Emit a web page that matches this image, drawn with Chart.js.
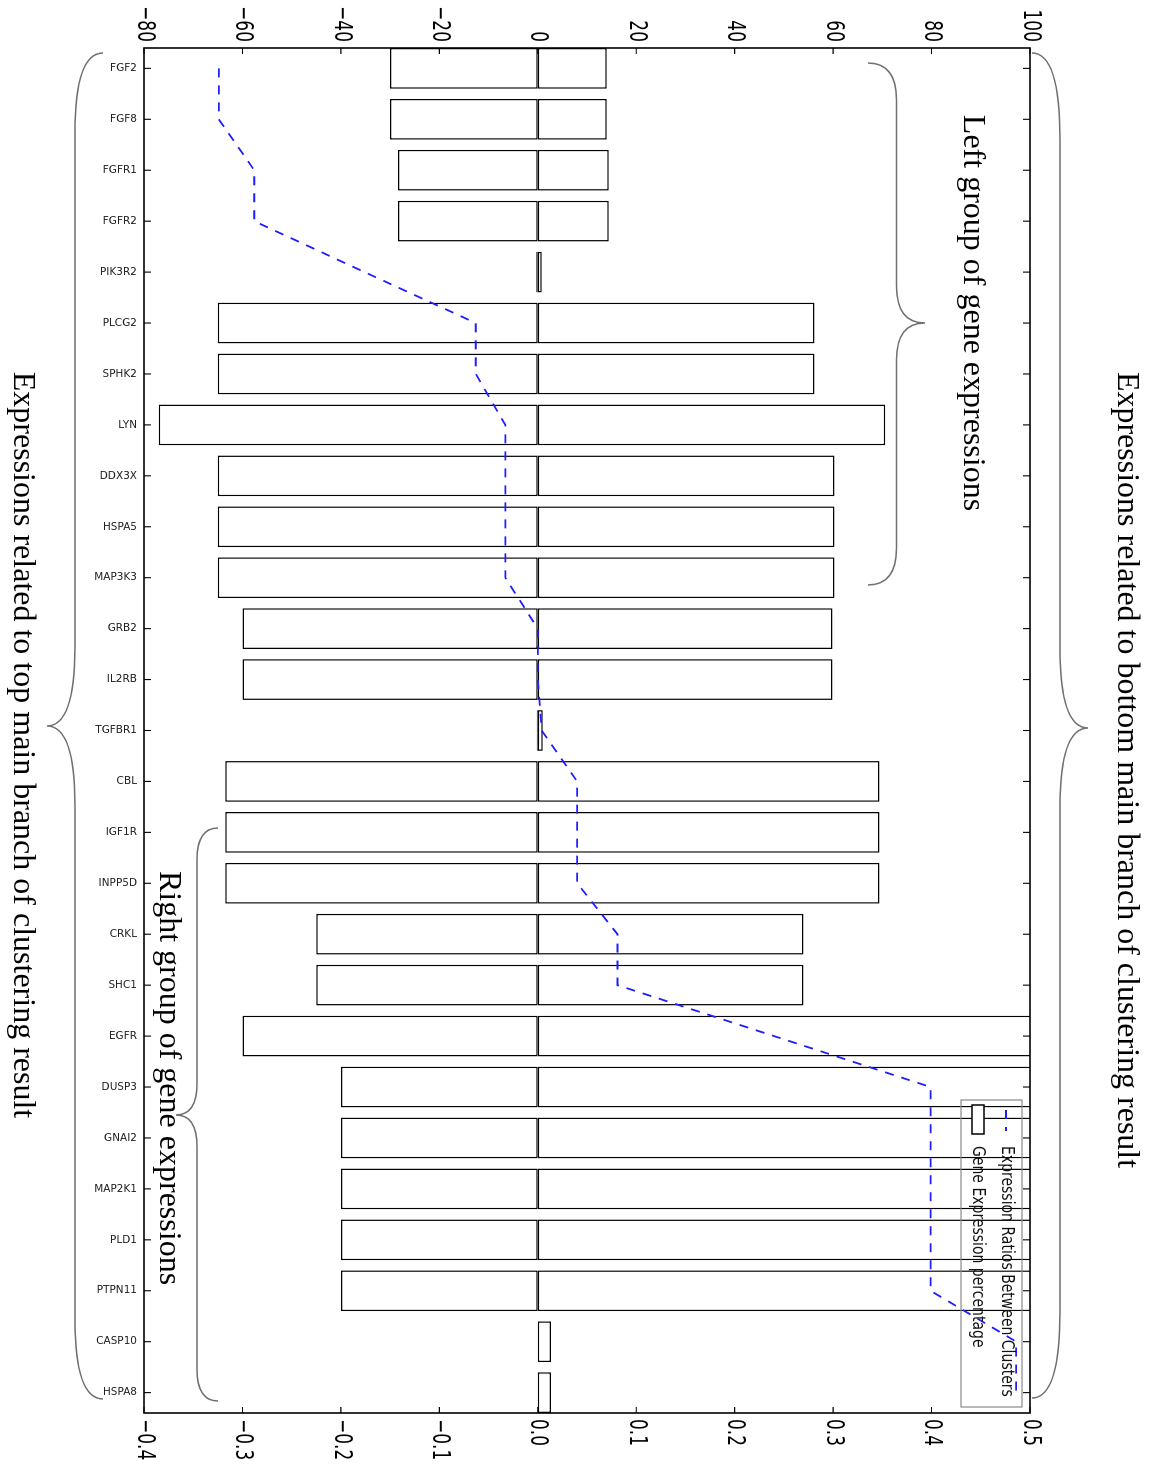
<!DOCTYPE html>
<html><head><meta charset="utf-8">
<script src="https://cdn.jsdelivr.net/npm/chart.js@4.4.1/dist/chart.umd.min.js"></script>
<style>
html,body{margin:0;padding:0;background:#fff;width:1151px;height:1464px;overflow:hidden;}
#wrap{position:absolute;left:0;top:0;width:1464px;height:1151px;transform-origin:0 0;transform:translate(1151px,0) rotate(90deg);}
canvas{display:block;}
</style></head><body>
<div id="wrap"><canvas id="c" width="1464" height="1151" style="width:1464px;height:1151px"></canvas></div>
<script>
// ---- data ----
const genes = ['FGF2','FGF8','FGFR1','FGFR2','PIK3R2','PLCG2','SPHK2','LYN','DDX3X','HSPA5','MAP3K3','GRB2','IL2RB','TGFBR1','CBL','IGF1R','INPP5D','CRKL','SHC1','EGFR','DUSP3','GNAI2','MAP2K1','PLD1','PTPN11','CASP10','HSPA8'];
const pctLow  = [-30,-30,-28.4,-28.4,-0.3,-65,-65,-77,-65,-65,-65,-60,-60,-0.2,-63.5,-63.5,-63.5,-45,-45,-60,-40,-40,-40,-40,-40,0,0];
const pctHigh = [14,14,14.4,14.4,0.8,56.2,56.2,70.6,60.3,60.3,60.3,59.9,59.9,1.0,69.4,69.4,69.4,54,54,125,125,125,125,125,125,2.7,2.7];
const ratios  = [-0.324,-0.324,-0.288,-0.288,-0.176,-0.063,-0.063,-0.033,-0.033,-0.033,-0.033,0,0,0.004,0.040,0.040,0.040,0.081,0.081,0.24,0.399,0.399,0.399,0.399,0.399,0.486,0.486];
const pctTicks = [-80,-60,-40,-20,0,20,40,60,80,100];
const pctTickLabels = ['\u221280','\u221260','\u221240','\u221220','0','20','40','60','80','100'];
const ratioTicks = [-0.4,-0.3,-0.2,-0.1,0,0.1,0.2,0.3,0.4,0.5];
const ratioTickLabels = ['\u22120.4','\u22120.3','\u22120.2','\u22120.1','0.0','0.1','0.2','0.3','0.4','0.5'];
const lineLabel = 'Expression Ratios Between Clusters';
const barLabel = 'Gene Expression percentage';
const notes = {
  bottomBranch: 'Expressions related to bottom main branch of clustering result',
  topBranch: 'Expressions related to top main branch of clustering result',
  leftGroup: 'Left group of gene expressions',
  rightGroup: 'Right group of gene expressions'
};

const BLUE = 'rgb(30,30,255)';
const DASH = [9, 8];

function sText(ctx, t, x, y, font, sy, align, color) {
  ctx.save();
  ctx.translate(x, y);
  ctx.scale(1, sy);
  ctx.font = font;
  ctx.fillStyle = color || '#000';
  ctx.textAlign = align;
  ctx.textBaseline = 'middle';
  ctx.fillText(t, 0, 0);
  ctx.restore();
}

function brace(ctx, x1, x2, xm, yEnd, yTip, r1, r2) {
  const ys = (yEnd + yTip) / 2;
  ctx.beginPath();
  ctx.moveTo(x1, yEnd);
  ctx.quadraticCurveTo(x1, ys, x1 + r1, ys);
  ctx.lineTo(xm - r2, ys);
  ctx.quadraticCurveTo(xm, ys, xm, yTip);
  ctx.quadraticCurveTo(xm, ys, xm + r2, ys);
  ctx.lineTo(x2 - r1, ys);
  ctx.quadraticCurveTo(x2, ys, x2, yEnd);
  ctx.stroke();
}

const overlay = {
  id: 'overlay',
  afterDraw(chart) {
    const ctx = chart.ctx, a = chart.chartArea;
    const xs = chart.scales.x, ys = chart.scales.y, y2 = chart.scales.y2;
    ctx.save();
    // frame
    ctx.strokeStyle = '#000';
    ctx.lineWidth = 1.6;
    ctx.strokeRect(a.left, a.top, a.right - a.left, a.bottom - a.top);
    // inward ticks
    ctx.lineWidth = 1.1;
    ctx.beginPath();
    pctTicks.forEach(v => { const p = ys.getPixelForValue(v); ctx.moveTo(a.left, p); ctx.lineTo(a.left + 6, p); });
    ratioTicks.forEach(v => { const p = y2.getPixelForValue(v); ctx.moveTo(a.right, p); ctx.lineTo(a.right - 6, p); });
    genes.forEach((g, i) => { const p = xs.getPixelForValue(i);
      ctx.moveTo(p, a.bottom); ctx.lineTo(p, a.bottom - 7);
      ctx.moveTo(p, a.top); ctx.lineTo(p, a.top + 7); });
    ctx.stroke();
    // tick labels
    const tf = '17px "DejaVu Sans"';
    pctTicks.forEach((v, i) => sText(ctx, pctTickLabels[i], a.left - 6, ys.getPixelForValue(v), tf, 1.42, 'right'));
    ratioTicks.forEach((v, i) => sText(ctx, ratioTickLabels[i], a.right + 6, y2.getPixelForValue(v), tf, 1.42, 'left'));
    genes.forEach((g, i) => {
      const p = xs.getPixelForValue(i);
      ctx.save();
      ctx.translate(p, a.bottom + 7);
      ctx.rotate(-Math.PI / 2);
      ctx.font = '10.5px "DejaVu Sans"';
      ctx.fillStyle = '#222';
      ctx.textAlign = 'right';
      ctx.textBaseline = 'middle';
      ctx.fillText(g, 0, 0);
      ctx.restore();
    });
    // legend
    ctx.strokeStyle = '#8a8a8a';
    ctx.lineWidth = 1.2;
    ctx.strokeRect(1100, 129, 307, 61);
    ctx.save();
    ctx.strokeStyle = BLUE; ctx.lineWidth = 1.8; ctx.setLineDash(DASH);
    ctx.beginPath(); ctx.moveTo(1110, 145); ctx.lineTo(1131, 145); ctx.stroke();
    ctx.restore();
    ctx.fillStyle = '#fff'; ctx.strokeStyle = '#000'; ctx.lineWidth = 1.5;
    ctx.fillRect(1105, 167, 29, 12); ctx.strokeRect(1105, 167, 29, 12);
    const lf = '14px "DejaVu Sans"';
    sText(ctx, lineLabel, 1146, 144, lf, 1.3, 'left', '#111');
    sText(ctx, barLabel, 1146, 173, lf, 1.3, 'left', '#111');
    // braces
    ctx.strokeStyle = '#707070';
    ctx.lineWidth = 1.5;
    brace(ctx, 53, 1398, 728, 119, 63, 87, 80);
    brace(ctx, 53, 1399, 726, 1048, 1104, 80, 80);
    brace(ctx, 63, 585, 323, 283, 226, 37, 37);
    brace(ctx, 828, 1401, 1115, 933, 975, 32, 32);
    // notes
    ctx.fillStyle = '#000';
    ctx.font = '32px "Liberation Serif"';
    ctx.textAlign = 'center';
    ctx.textBaseline = 'alphabetic';
    ctx.fillText(notes.bottomBranch, 770, 33);
    ctx.fillText(notes.topBranch, 745, 1137);
    ctx.fillText(notes.leftGroup, 313, 187);
    ctx.fillText(notes.rightGroup, 1078, 991);
    ctx.restore();
  }
};

const lowData = pctLow.map((v, i) => ({ x: i, y: v }));
const highData = pctHigh.map((v, i) => ({ x: i, y: v }));
const ratioData = ratios.map((v, i) => ({ x: i, y: v }));

const barStyle = {
  type: 'bar', yAxisID: 'y', order: 2,
  backgroundColor: '#fff', borderColor: '#000', borderWidth: 1.5,
  borderSkipped: false, barPercentage: 0.8, categoryPercentage: 1.0, grouped: false
};

new Chart(document.getElementById('c'), {
  type: 'bar',
  data: {
    datasets: [
      Object.assign({ label: barLabel, data: lowData }, barStyle),
      Object.assign({ label: barLabel, data: highData }, barStyle),
      { type: 'line', label: lineLabel, data: ratioData, yAxisID: 'y2', order: 0,
        borderColor: BLUE, borderWidth: 1.8, borderDash: DASH, pointRadius: 0,
        fill: false, tension: 0 }
    ]
  },
  options: {
    responsive: false, animation: false, devicePixelRatio: 1,
    layout: { padding: { left: 48, right: 51, top: 121, bottom: 144 } },
    plugins: { legend: { display: false }, tooltip: { enabled: false } },
    scales: {
      x: { type: 'linear', min: -0.4, max: 26.4, display: false, offset: false },
      y: { type: 'linear', min: -80, max: 100, display: false },
      y2: { type: 'linear', min: -0.4, max: 0.5, display: false }
    }
  },
  plugins: [overlay]
});
</script>
</body></html>
